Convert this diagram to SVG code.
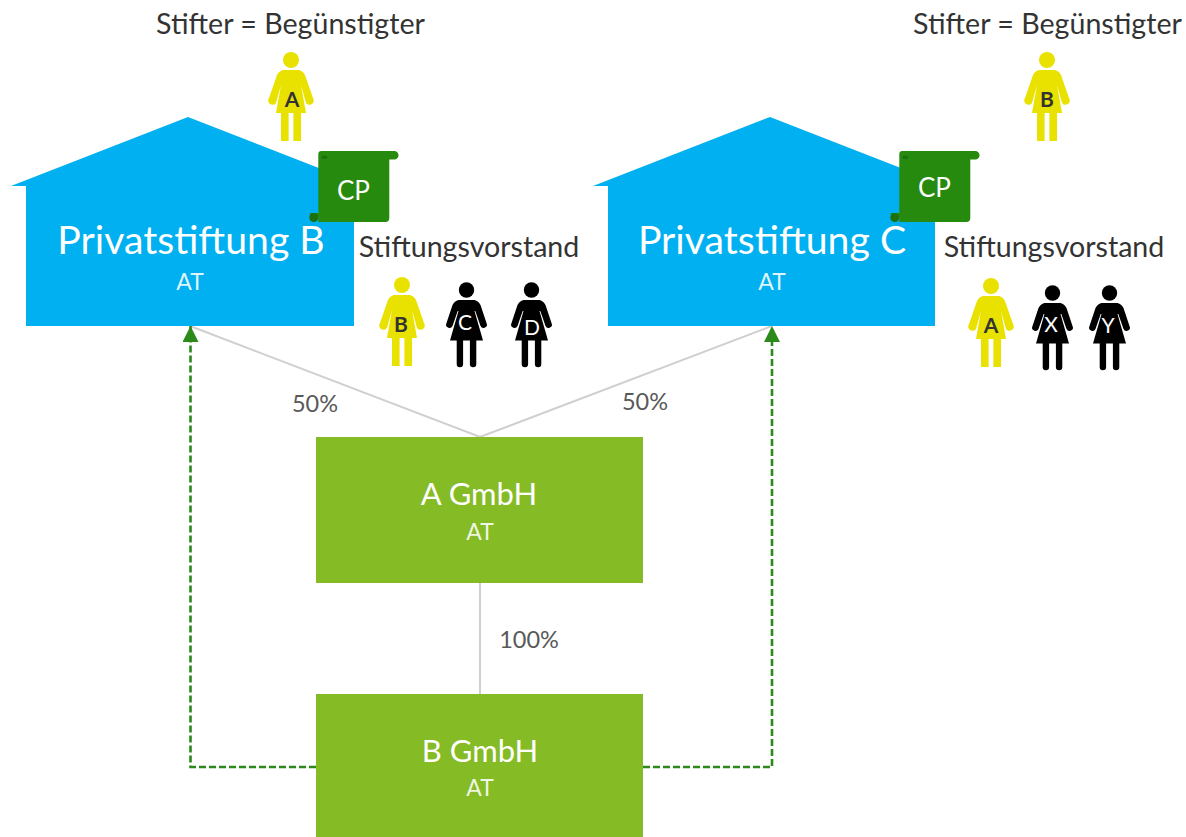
<svg xmlns="http://www.w3.org/2000/svg" xmlns:xlink="http://www.w3.org/1999/xlink" width="1186" height="837" viewBox="0 0 1186 837">
<style>
text{font-family:Lato,"Liberation Sans",sans-serif;text-anchor:middle}
.house{fill:#00b0f0}
.box{fill:#85bb25}
.t{fill:#fff}
.big{font-size:39.200px}
.mid{font-size:31px}
.sm{font-size:23px;fill-opacity:.88}
.head{fill:#333;font-size:28.600px}
.pct{fill:#595959;font-size:23.500px}
.ltr{font-size:21px}
.dk{fill:#333;font-weight:700}
.lt{fill:#fff}
.cp{font-size:26px;fill:#fff}
.grey{stroke:#d0cece;stroke-width:2;fill:none}
.dash{stroke:#2b8a1a;stroke-width:2.600;fill:none;stroke-dasharray:7 3;marker-end:url(#arr)}
</style>
<defs>
<marker id="arr" markerUnits="userSpaceOnUse" markerWidth="16" markerHeight="16" refX="16" refY="8" orient="auto" viewBox="0 0 16 16">
<path d="M0,0 L16,8 L0,16 Z" fill="#2b8a1a"/>
</marker>
<g id="py">
<circle cx="0" cy="0" r="8" fill="#e9e100"/>
<path fill="#e9e100" d="M-8,10 H8 Q12,11 14,15 L22,38 A3.800,3.800 0 0 1 15,43 L10,25 L15,53 H10 V81 H2.400 V53 H-2.400 V81 H-10 V53 H-15 L-10,25 L-15,43 A3.800,3.800 0 0 1 -22,38 L-14,15 Q-12,11 -8,10 Z"/>
</g>
<g id="pk">
<circle cx="0" cy="0" r="7.700" fill="#000"/>
<path fill="#000" d="M-8,10 H8 Q12,11 14,15 L20,33 A3.200,3.200 0 0 1 14,36 L8.800,21 L8,21 L16.500,50.500 H9.800 V74 A3.200,3.200 0 0 1 3.400,74 V50.500 H1.600 V50.500 H-1.600 H-3.400 V74 A3.200,3.200 0 0 1 -9.800,74 V50.500 H-16.500 L-8,21 L-8.800,21 L-14,36 A3.200,3.200 0 0 1 -20,33 L-14,15 Q-12,11 -8,10 Z"/>
</g>
<g id="sc">
<path fill="#268a0e" d="M-8.500,62 H2 V66 H-4.500 Q-8.500,66 -8.500,62 Z"/>
<circle cx="-4.500" cy="66.500" r="4.500" fill="#1d700b"/>
<path fill="#268a0e" d="M3,0 H76 A4.200,4.200 0 0 1 76,8.500 H71 V67 Q71,71 67,71 H0 V3 Q0,0 3,0 Z"/>
<ellipse cx="6" cy="6.300" rx="3" ry="1.800" fill="#1d700b"/>
</g>
</defs>

<g id="connectors">
<path class="grey" d="M190,326 L480,437 L772,326"/>
<path class="grey" d="M480,583 V694"/>
<path class="dash" d="M316,767 H190.500 V326"/>
<path class="dash" d="M643,767 H772 V326"/>
</g>

<g id="stiftung-b">
<polygon class="house" points="11,186 188,117 365,186 354,186 354,326 26,326 26,186"/>
<text class="t big" x="191" y="254">Privatstiftung B</text>
<text class="t sm" x="190" y="290">AT</text>
<use xlink:href="#sc" href="#sc" x="318.300" y="151"/>
<text class="cp" x="353.500" y="200">CP</text>
</g>

<g id="stiftung-c">
<polygon class="house" points="593,186 770,117 947,186 935,186 935,326 608,326 608,186"/>
<text class="t big" x="772" y="254">Privatstiftung C</text>
<text class="t sm" x="772" y="290">AT</text>
<use xlink:href="#sc" href="#sc" x="899.300" y="151"/>
<text class="cp" x="934.500" y="197">CP</text>
</g>

<g id="a-gmbh">
<rect class="box" x="316" y="437" width="327" height="146"/>
<text class="t mid" x="479" y="505">A GmbH</text>
<text class="t sm" x="480" y="540">AT</text>
</g>
<g id="b-gmbh">
<rect class="box" x="316" y="694" width="327" height="143"/>
<text class="t mid" x="480" y="762">B GmbH</text>
<text class="t sm" x="480" y="796">AT</text>
</g>

<g id="labels">
<text class="pct" x="315" y="412">50%</text>
<text class="pct" x="645" y="410">50%</text>
<text class="pct" x="529" y="648">100%</text>
<text class="head" x="290.500" y="34">Stifter = Begünstigter</text>
<text class="head" x="1047.500" y="34">Stifter = Begünstigter</text>
<text class="head" x="469" y="257">Stiftungsvorstand</text>
<text class="head" x="1054" y="257">Stiftungsvorstand</text>
</g>

<g id="person-a1"><use xlink:href="#py" href="#py" x="291" y="60"/><text class="ltr dk" x="292" y="107">A</text></g>
<g id="person-b1"><use xlink:href="#py" href="#py" x="1047" y="60"/><text class="ltr dk" x="1047" y="107">B</text></g>
<g id="person-b2"><use xlink:href="#py" href="#py" x="402" y="285"/><text class="ltr dk" x="401" y="332">B</text></g>
<g id="person-c"><use xlink:href="#pk" href="#pk" x="466.500" y="290"/><text class="ltr lt" x="465" y="330">C</text></g>
<g id="person-d"><use xlink:href="#pk" href="#pk" x="531.500" y="290"/><text class="ltr lt" x="532" y="335">D</text></g>
<g id="person-a2"><use xlink:href="#py" href="#py" x="991" y="286"/><text class="ltr dk" x="991" y="333">A</text></g>
<g id="person-x"><use xlink:href="#pk" href="#pk" x="1052.500" y="293"/><text class="ltr lt" x="1051" y="332">X</text></g>
<g id="person-y"><use xlink:href="#pk" href="#pk" x="1109.500" y="293"/><text class="ltr lt" x="1108" y="333">Y</text></g>
</svg>
